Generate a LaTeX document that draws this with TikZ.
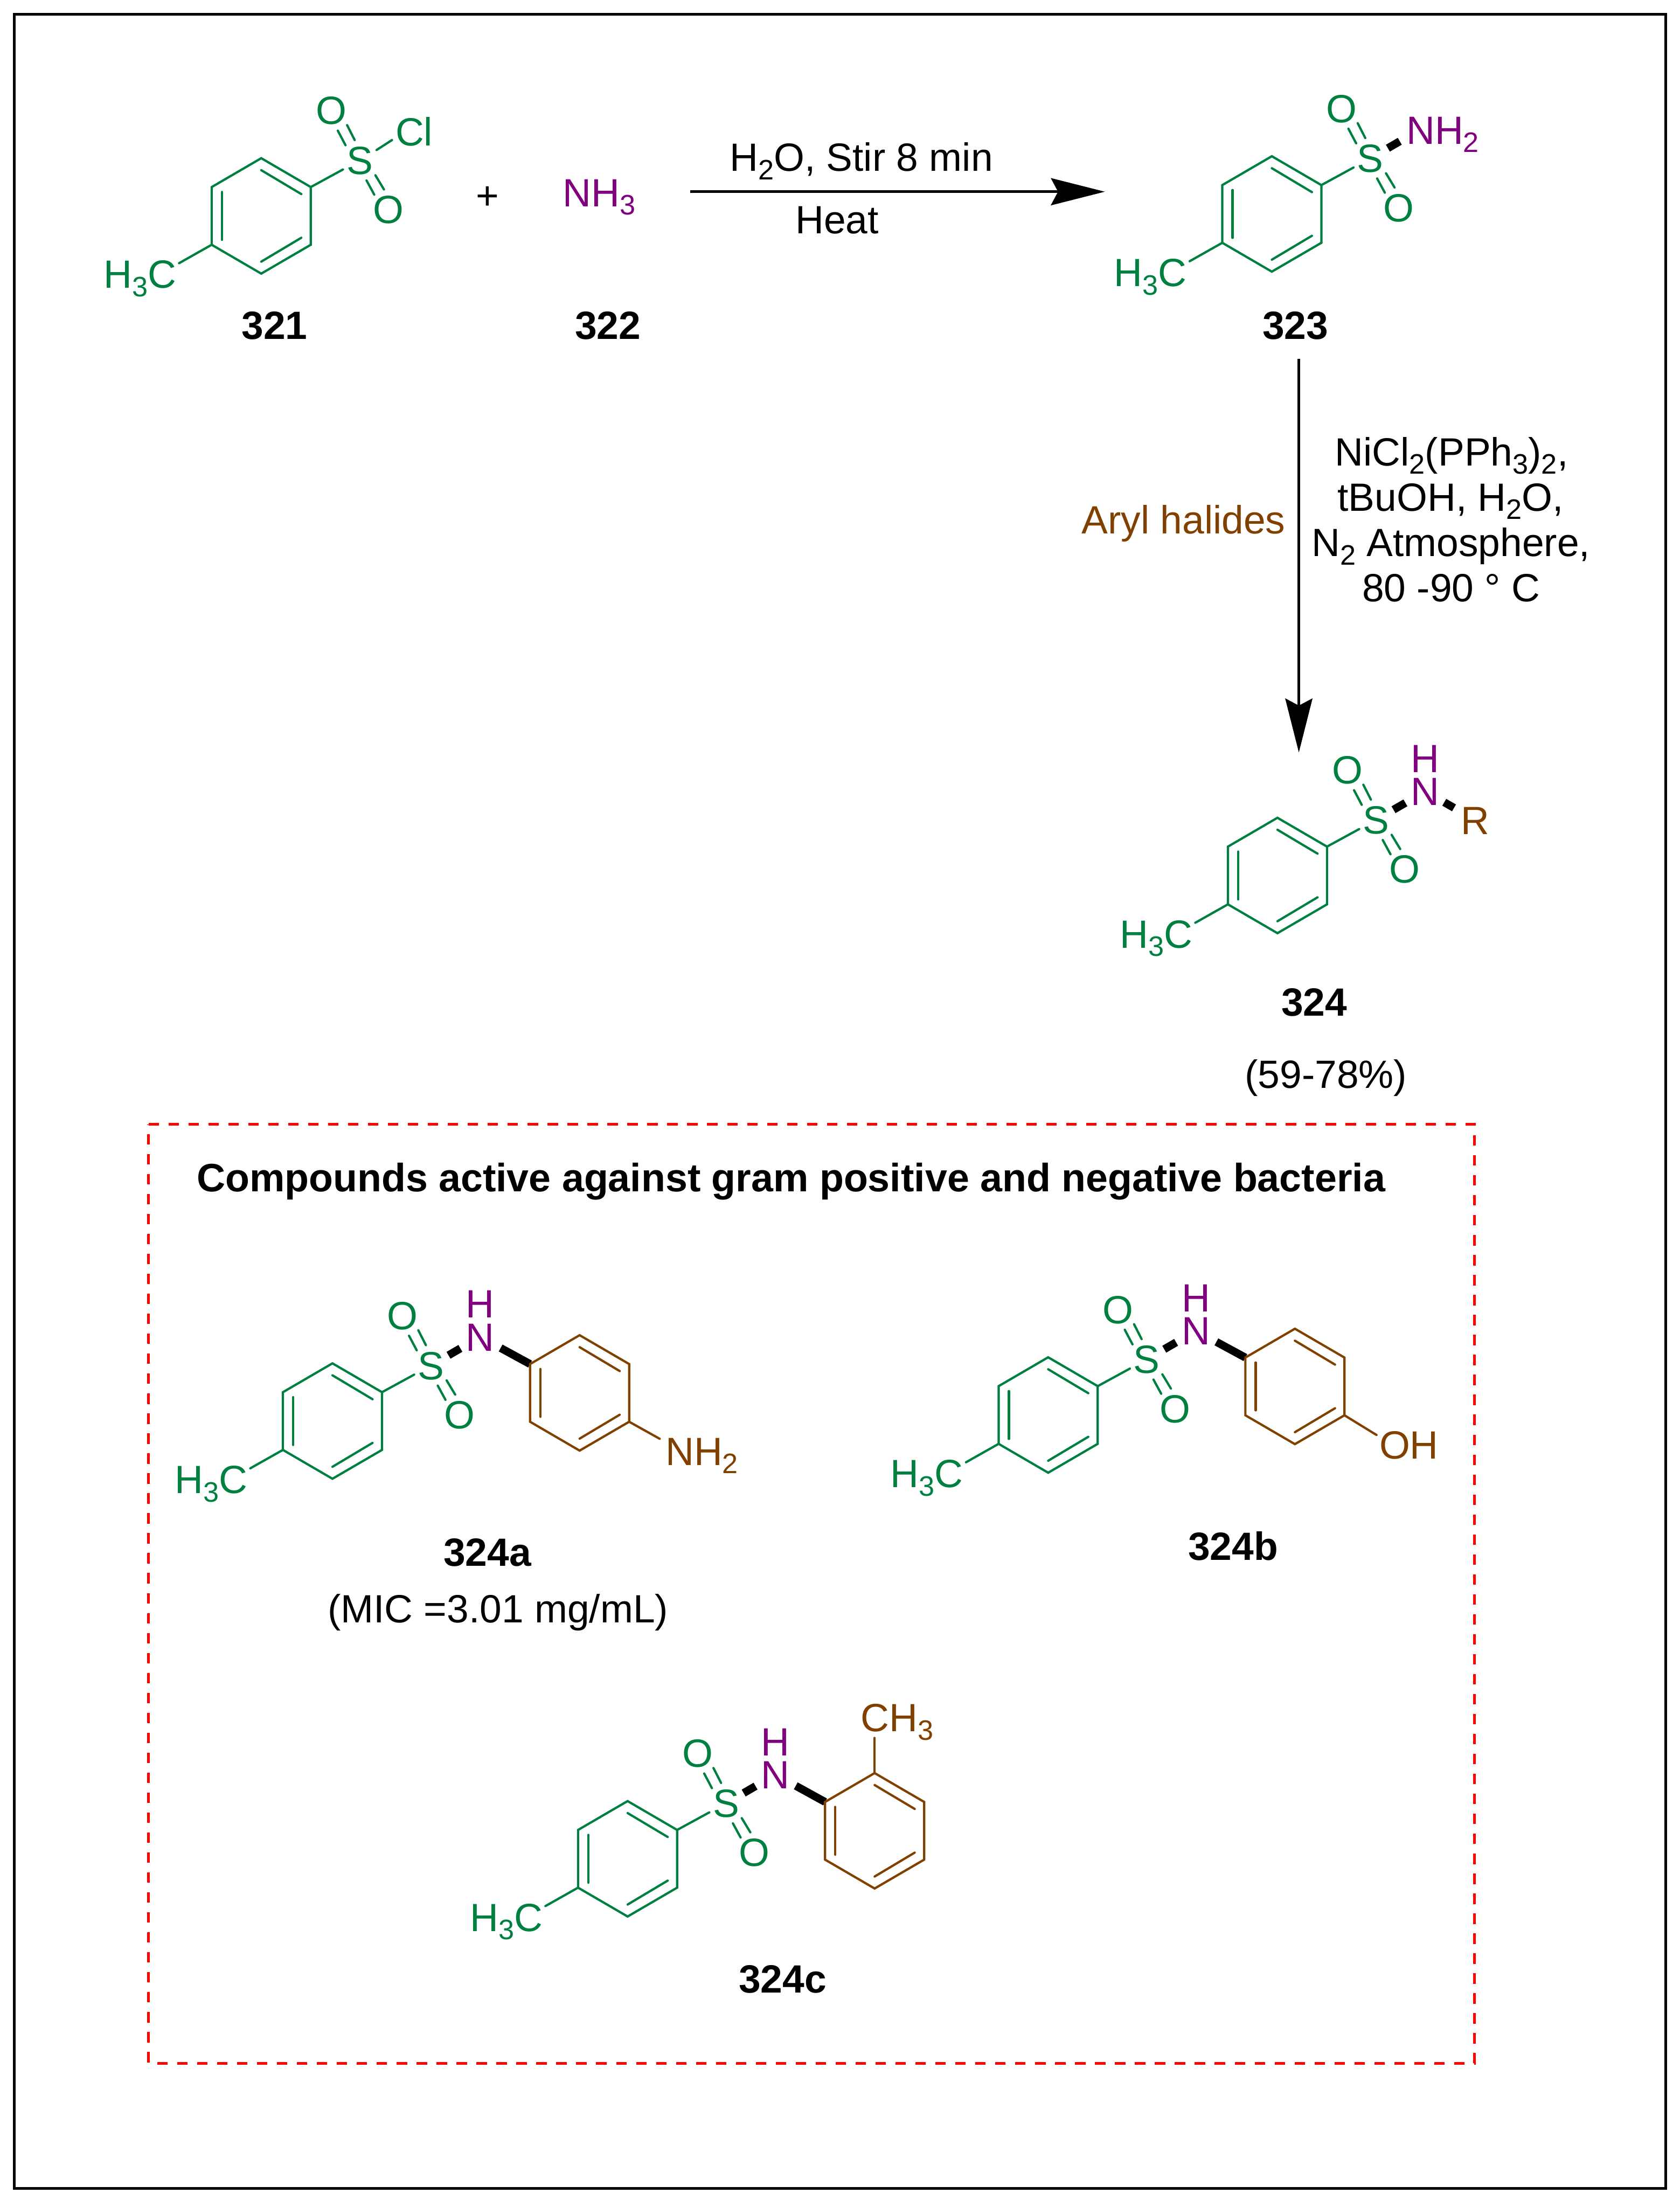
\documentclass[tikz,border=0pt]{standalone}
\usepackage{fontspec}
\setmainfont{Liberation Sans}
\usetikzlibrary{arrows.meta}
\definecolor{chemgreen}{RGB}{0,128,64}
\definecolor{chembrown}{RGB}{128,64,0}
\definecolor{chempurple}{RGB}{128,0,128}
\newcommand\sbs[1]{\raisebox{-6pt}{\fontsize{20}{20}\selectfont #1}}
\tikzset{
  txt/.style={inner sep=0pt,outer sep=0pt,font=\fontsize{28}{32}\selectfont},
  atomc/.style={txt,anchor=base,yshift=-9.9pt},
  atoml/.style={txt,anchor=base west},
  capt/.style={txt,anchor=base},
  lab/.style={txt,anchor=base,font=\fontsize{28}{32}\selectfont\bfseries},
  bond/.style={line width=1.6pt,line cap=round,line join=miter},
  heavy/.style={line width=5.6pt,line cap=butt,black},
  rxn/.style={line width=1.95pt,black,-{Stealth[length=38.3pt,width=19.2pt,inset=5pt]}},
  dashbox/.style={line width=1.9pt,red,dash pattern=on 7.4pt off 6.776pt,line cap=butt,line join=miter},
  frame/.style={line width=1.9pt,black}
}
% benzene ring with three inner double bonds: id, centre x, centre y, colour
\newcommand\benz[4]{%
  \begin{scope}[shift={(#2,#3)}]
    \coordinate (#1-1) at (0,-41);
    \coordinate (#1-2) at (35.2,-20.5);
    \coordinate (#1-3) at (35.2,20.5);
    \coordinate (#1-4) at (0,41);
    \coordinate (#1-5) at (-35.2,20.5);
    \coordinate (#1-6) at (-35.2,-20.5);
    \draw[bond,#4] (#1-1)--(#1-2)--(#1-3)--(#1-4)--(#1-5)--(#1-6)--cycle;
    \draw[bond,#4] (#1-6) ++(7.3,3.5) -- ++(0,34);
    \draw[bond,#4] (#1-1) ++(0,8.5) -- ++(28.5,17);
    \draw[bond,#4] (#1-4) ++(0,-8.5) -- ++(28.5,-17);
  \end{scope}}
% tolylsulfonyl part: id, ring centre x, y
\newcommand\tolyl[3]{%
  \benz{#1}{#2}{#3}{chemgreen}
  \begin{scope}[shift={(#2,#3)}]
    \coordinate (#1-s) at (70,-39.5);
    \coordinate (#1-ot) at (49.7,-75);
    \coordinate (#1-ob) at (90.2,-4.5);
    \coordinate (#1-m) at (-112,51.4);
    \node[atomc,chemgreen] (#1-S) at (#1-s) {S};
    \node[atomc,chemgreen] (#1-Ot) at (#1-ot) {O};
    \node[atomc,chemgreen] (#1-Ob) at (#1-ob) {O};
    \node[atoml,chemgreen] (#1-Me) at (#1-m) {H\sbs{3}C};
    \draw[bond,chemgreen,shorten >=13.6pt] (#1-2) -- (#1-s);
    \draw[bond,chemgreen] (#1-5) -- ++(-23.2,13.1);
    \draw[bond,chemgreen] (#1-s) ++(-10.1,-10.7) -- ++(-5.5,-10.4);
    \draw[bond,chemgreen] (#1-s) ++(-3.6,-14.4) -- ++(-5.4,-10.6);
    \draw[bond,chemgreen] (#1-s) ++(11.1,10.6) -- ++(6.1,10.1);
    \draw[bond,chemgreen] (#1-s) ++(4.8,14.3) -- ++(5.5,10.1);
  \end{scope}}
% N-H group after the sulfur: id
\newcommand\amideNH[1]{%
  \path (#1-s) ++(35,-20.3) coordinate (#1-n);
  \path (#1-n) ++(0,-23.4) coordinate (#1-h);
  \node[atomc,chempurple] (#1-N) at (#1-n) {N};
  \node[atomc,chempurple] (#1-H) at (#1-h) {H};
  \draw[heavy,shorten <=14.4pt,shorten >=16.3pt] (#1-s) -- (#1-n);}
% aryl ring on N with the heavy N-aryl bond: id, ring centre x, y
\newcommand\arylN[3]{%
  \path (#2,#3) ++(-35.2,-20.5) coordinate (#1-x);
  \draw[heavy,shorten <=16.5pt] (#1-n) -- (#1-x);
  \benz{#1-ar}{#2}{#3}{chembrown}}
\begin{document}
\begin{tikzpicture}[x=1pt,y=-1pt]
\useasboundingbox (0,0) rectangle (1193.4,1568);
\fill[white] (0,0) rectangle (1193.4,1568);
\coordinate (f1) at (10.2,10);
\coordinate (f2) at (1183.3,1554.6);
\draw[frame] (f1) rectangle (f2);

% 321
\tolyl{m321}{185.6}{153.4}
\node[atoml,chemgreen] (cl) at (281,103.4) {Cl};
\draw[bond,chemgreen] (m321-s) ++(11.9,-7.3) -- ++(11,-7.1);
\node[lab] (l321) at (195.1,240.8) {321};

% plus and 322
\node[capt] (plus) at (346.2,148.6) {+};
\node[atoml,chempurple] (nh3) at (400,146.7) {NH\sbs{3}};
\node[lab] (l322) at (431.9,240.8) {322};

% first arrow
\coordinate (a1s) at (490.5,136.2);
\coordinate (a1e) at (785,136.2);
\draw[rxn] (a1s) -- (a1e);
\node[atoml] (c1) at (518.5,121.5) {H\sbs{2}O, Stir 8 min};
\node[atoml] (c2) at (565.2,165.8) {Heat};

% 323
\tolyl{m323}{903.6}{152}
\path (m323-s) ++(35,-20.3) coordinate (m323-n);
\draw[heavy,shorten <=14.4pt,shorten >=16.3pt] (m323-s) -- (m323-n);
\node[atoml,chempurple] (nh2) at (999.2,102.3) {NH\sbs{2}};
\node[lab] (l323) at (920.4,240.9) {323};

% second arrow
\coordinate (a2s) at (922.8,255);
\coordinate (a2e) at (922.8,534.6);
\draw[rxn] (a2s) -- (a2e);
\node[atoml,chembrown] (ah) at (768.5,379.3) {Aryl halides};
\node[capt] (d1) at (1031.3,330.8) {NiCl\sbs{2}(PPh\sbs{3})\sbs{2},};
\node[capt] (d2) at (1030.6,363) {tBuOH, H\sbs{2}O,};
\node[capt] (d3) at (1030.8,395.4) {N\sbs{2} Atmosphere,};
\node[capt] (d4) at (1031,427.5) {80 -90 ° C};

% 324
\tolyl{m324}{907.6}{622}
\amideNH{m324}
\path (m324-n) ++(35.6,20.5) coordinate (m324-r);
\node[atomc,chembrown] (rr) at (m324-r) {R};
\draw[heavy,shorten <=15.6pt,shorten >=17.5pt] (m324-n) -- (m324-r);
\node[lab] (l324) at (933.8,721.8) {324};
\node[capt] (yld) at (942,773.2) {(59-78\%)};

% red box
\coordinate (b1) at (105.5,798.9);
\coordinate (b2) at (1047.6,798.9);
\coordinate (b3) at (1047.6,1465.8);
\coordinate (b4) at (105.5,1465.8);
\draw[dashbox] (b1) -- (b2) -- (b3) -- (b4) -- cycle;
\node[lab,anchor=base west,font=\fontsize{28.14}{32}\selectfont\bfseries] (title) at (139.8,846.4) {Compounds active against gram positive and negative bacteria};

% 324a
\tolyl{ma}{236.2}{1009.6}
\amideNH{ma}
\arylN{ma}{411.8}{989.6}
\draw[bond,chembrown] (ma-ar-3) -- ++(21.7,12.1);
\node[atoml,chembrown] (mana) at (472.9,1040.9) {NH\sbs{2}};
\node[lab] (la) at (346.3,1112.5) {324a};
\node[capt] (mic) at (353.8,1152.9) {(MIC =3.01 mg/mL)};

% 324b
\tolyl{mb}{744.7}{1005.3}
\amideNH{mb}
\arylN{mb}{920}{985}
\draw[bond,chembrown] (mb-ar-3) -- ++(22.8,14);
\node[atoml,chembrown] (oh) at (980,1036.3) {OH};
\node[lab] (lb) at (876.1,1108.6) {324b};

% 324c
\tolyl{mc}{445.9}{1320.6}
\amideNH{mc}
\arylN{mc}{621.4}{1300.7}
\draw[bond,chembrown] (mc-ar-1) -- ++(0,-25);
\node[atoml,chembrown] (ch3) at (611.7,1230.1) {CH\sbs{3}};
\node[lab] (lc) at (556,1415.8) {324c};
\end{tikzpicture}
\end{document}
